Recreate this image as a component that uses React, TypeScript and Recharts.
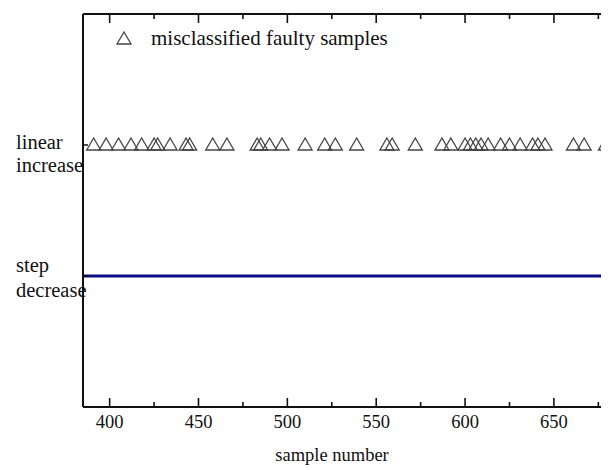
import React from 'react';
import { ScatterChart, Scatter, XAxis, YAxis, Legend } from 'recharts';

// Sample-number axis
const sampleDomain = [385, 681];
const sampleTicks = [400, 425, 450, 475, 500, 525, 550, 575, 600, 625, 650, 675];

// Fault classes on the vertical axis
const faultLevels = [1, 2];
const faultLabels: Record<number, string[]> = {
  1: ['step', 'decrease'],
  2: ['linear', 'increase'],
};

// Samples of the linear-increase fault that were assigned to the wrong class
const misclassifiedSamples = [
  391, 398, 405, 412, 418, 425, 427, 434, 443, 445, 458, 466, 483, 485, 490, 497,
  510, 521, 527, 539, 556, 559, 572, 587, 592, 600, 603, 606, 609, 613, 620, 625,
  631, 638, 641, 645, 661, 667, 679,
];

// Step-decrease samples: every one classified correctly, drawn as a continuous band
const stepDecreaseSamples = [385, 681];

const misclassifiedData = misclassifiedSamples.map((s) => ({ x: s, y: 2 }));
const stepData = stepDecreaseSamples.map((s) => ({ x: s, y: 1 }));

const FONT = 'Liberation Serif, Tinos, DejaVu Serif, serif';
const INK = '#111';

const Triangle = (props: any) => {
  const { cx, cy } = props;
  if (cx == null || cy == null) return <g />;
  const d = `M${cx - 7},${cy + 5} L${cx},${cy - 7} L${cx + 7},${cy + 5} Z`;
  return <path d={d} fill="none" stroke="#444" strokeWidth={1.3} strokeLinejoin="miter" />;
};

const NoMarker = () => <g />;

const BottomTick = (props: any) => {
  const { x, y, payload } = props;
  const major = payload.value % 50 === 0;
  return (
    <g>
      <line x1={x} x2={x} y1={y} y2={y - (major ? 9 : 5)} stroke={INK} strokeWidth={1.6} />
      {major && (
        <text x={x} y={y + 21} textAnchor="middle" style={{ fontFamily: FONT }} fontSize={18.5} fill={INK}>
          {payload.value}
        </text>
      )}
    </g>
  );
};

const TopTick = (props: any) => {
  const { x, y, payload } = props;
  const major = payload.value % 50 === 0;
  return <line x1={x} x2={x} y1={y} y2={y + (major ? 9 : 5)} stroke={INK} strokeWidth={1.6} />;
};

const FaultTick = (props: any) => {
  const { x, y, payload } = props;
  const lines = faultLabels[payload.value] || [];
  const isStep = payload.value === 1;
  const first = isStep ? y - 4 : y + 4;
  const gap = isStep ? 25 : 23;
  return (
    <g>
      <line x1={x} x2={x + 5} y1={y} y2={y} stroke={INK} strokeWidth={1.5} />
      <text style={{ fontFamily: FONT }} fontSize={20.5} fill={INK} textAnchor="start">
        <tspan x={x - 67} y={first}>{lines[0]}</tspan>
        <tspan x={x - 67} y={first + gap}>{lines[1]}</tspan>
      </text>
    </g>
  );
};

const LegendContent = () => (
  <div style={{ display: 'flex', alignItems: 'center', fontFamily: FONT, fontSize: 21, color: INK, whiteSpace: 'nowrap', lineHeight: '24px' }}>
    <svg width={16} height={14} style={{ display: 'block' }}>
      <path d="M1,13 L8,1 L15,13 Z" fill="none" stroke="#444" strokeWidth={1.3} />
    </svg>
    <span style={{ marginLeft: 19 }}>misclassified faulty samples</span>
  </div>
);

export default function App() {
  return (
    <div style={{ fontFamily: FONT }}>
      <ScatterChart width={601} height={462} margin={{ top: 5, right: 0, bottom: 0, left: 0 }}>
        <XAxis
          type="number"
          dataKey="x"
          domain={sampleDomain}
          ticks={sampleTicks}
          interval={0}
          allowDataOverflow
          height={63}
          tickSize={0}
          tickMargin={0}
          tick={<BottomTick />}
          tickLine={false}
          axisLine={{ stroke: INK, strokeWidth: 2 }}
          label={{
            value: 'sample number',
            position: 'insideBottom',
            offset: 9,
            dx: -14,
            style: { fontFamily: FONT, fontSize: 18.5, fill: INK },
          }}
        />
        <XAxis
          xAxisId="top"
          orientation="top"
          type="number"
          dataKey="x"
          domain={sampleDomain}
          ticks={sampleTicks}
          interval={0}
          allowDataOverflow
          height={1}
          tickSize={0}
          tickMargin={0}
          tick={<TopTick />}
          tickLine={false}
          axisLine={{ stroke: INK, strokeWidth: 2 }}
        />
        <YAxis
          type="number"
          dataKey="y"
          domain={[0, 3]}
          ticks={faultLevels}
          interval={0}
          width={75}
          tickSize={0}
          tickMargin={0}
          tick={<FaultTick />}
          tickLine={false}
          axisLine={{ stroke: INK, strokeWidth: 2 }}
        />
        <Legend
          layout="horizontal"
          verticalAlign="middle"
          align="center"
          wrapperStyle={{ top: 18, left: 108, width: 'auto' }}
          content={<LegendContent />}
        />
        <Scatter
          name="step decrease"
          data={stepData}
          xAxisId="top"
          line={{ stroke: '#0c0c86', strokeWidth: 3 }}
          shape={<NoMarker />}
          isAnimationActive={false}
          legendType="none"
        />
        <Scatter
          name="misclassified faulty samples"
          data={misclassifiedData}
          shape={<Triangle />}
          isAnimationActive={false}
        />
      </ScatterChart>
    </div>
  );
}
